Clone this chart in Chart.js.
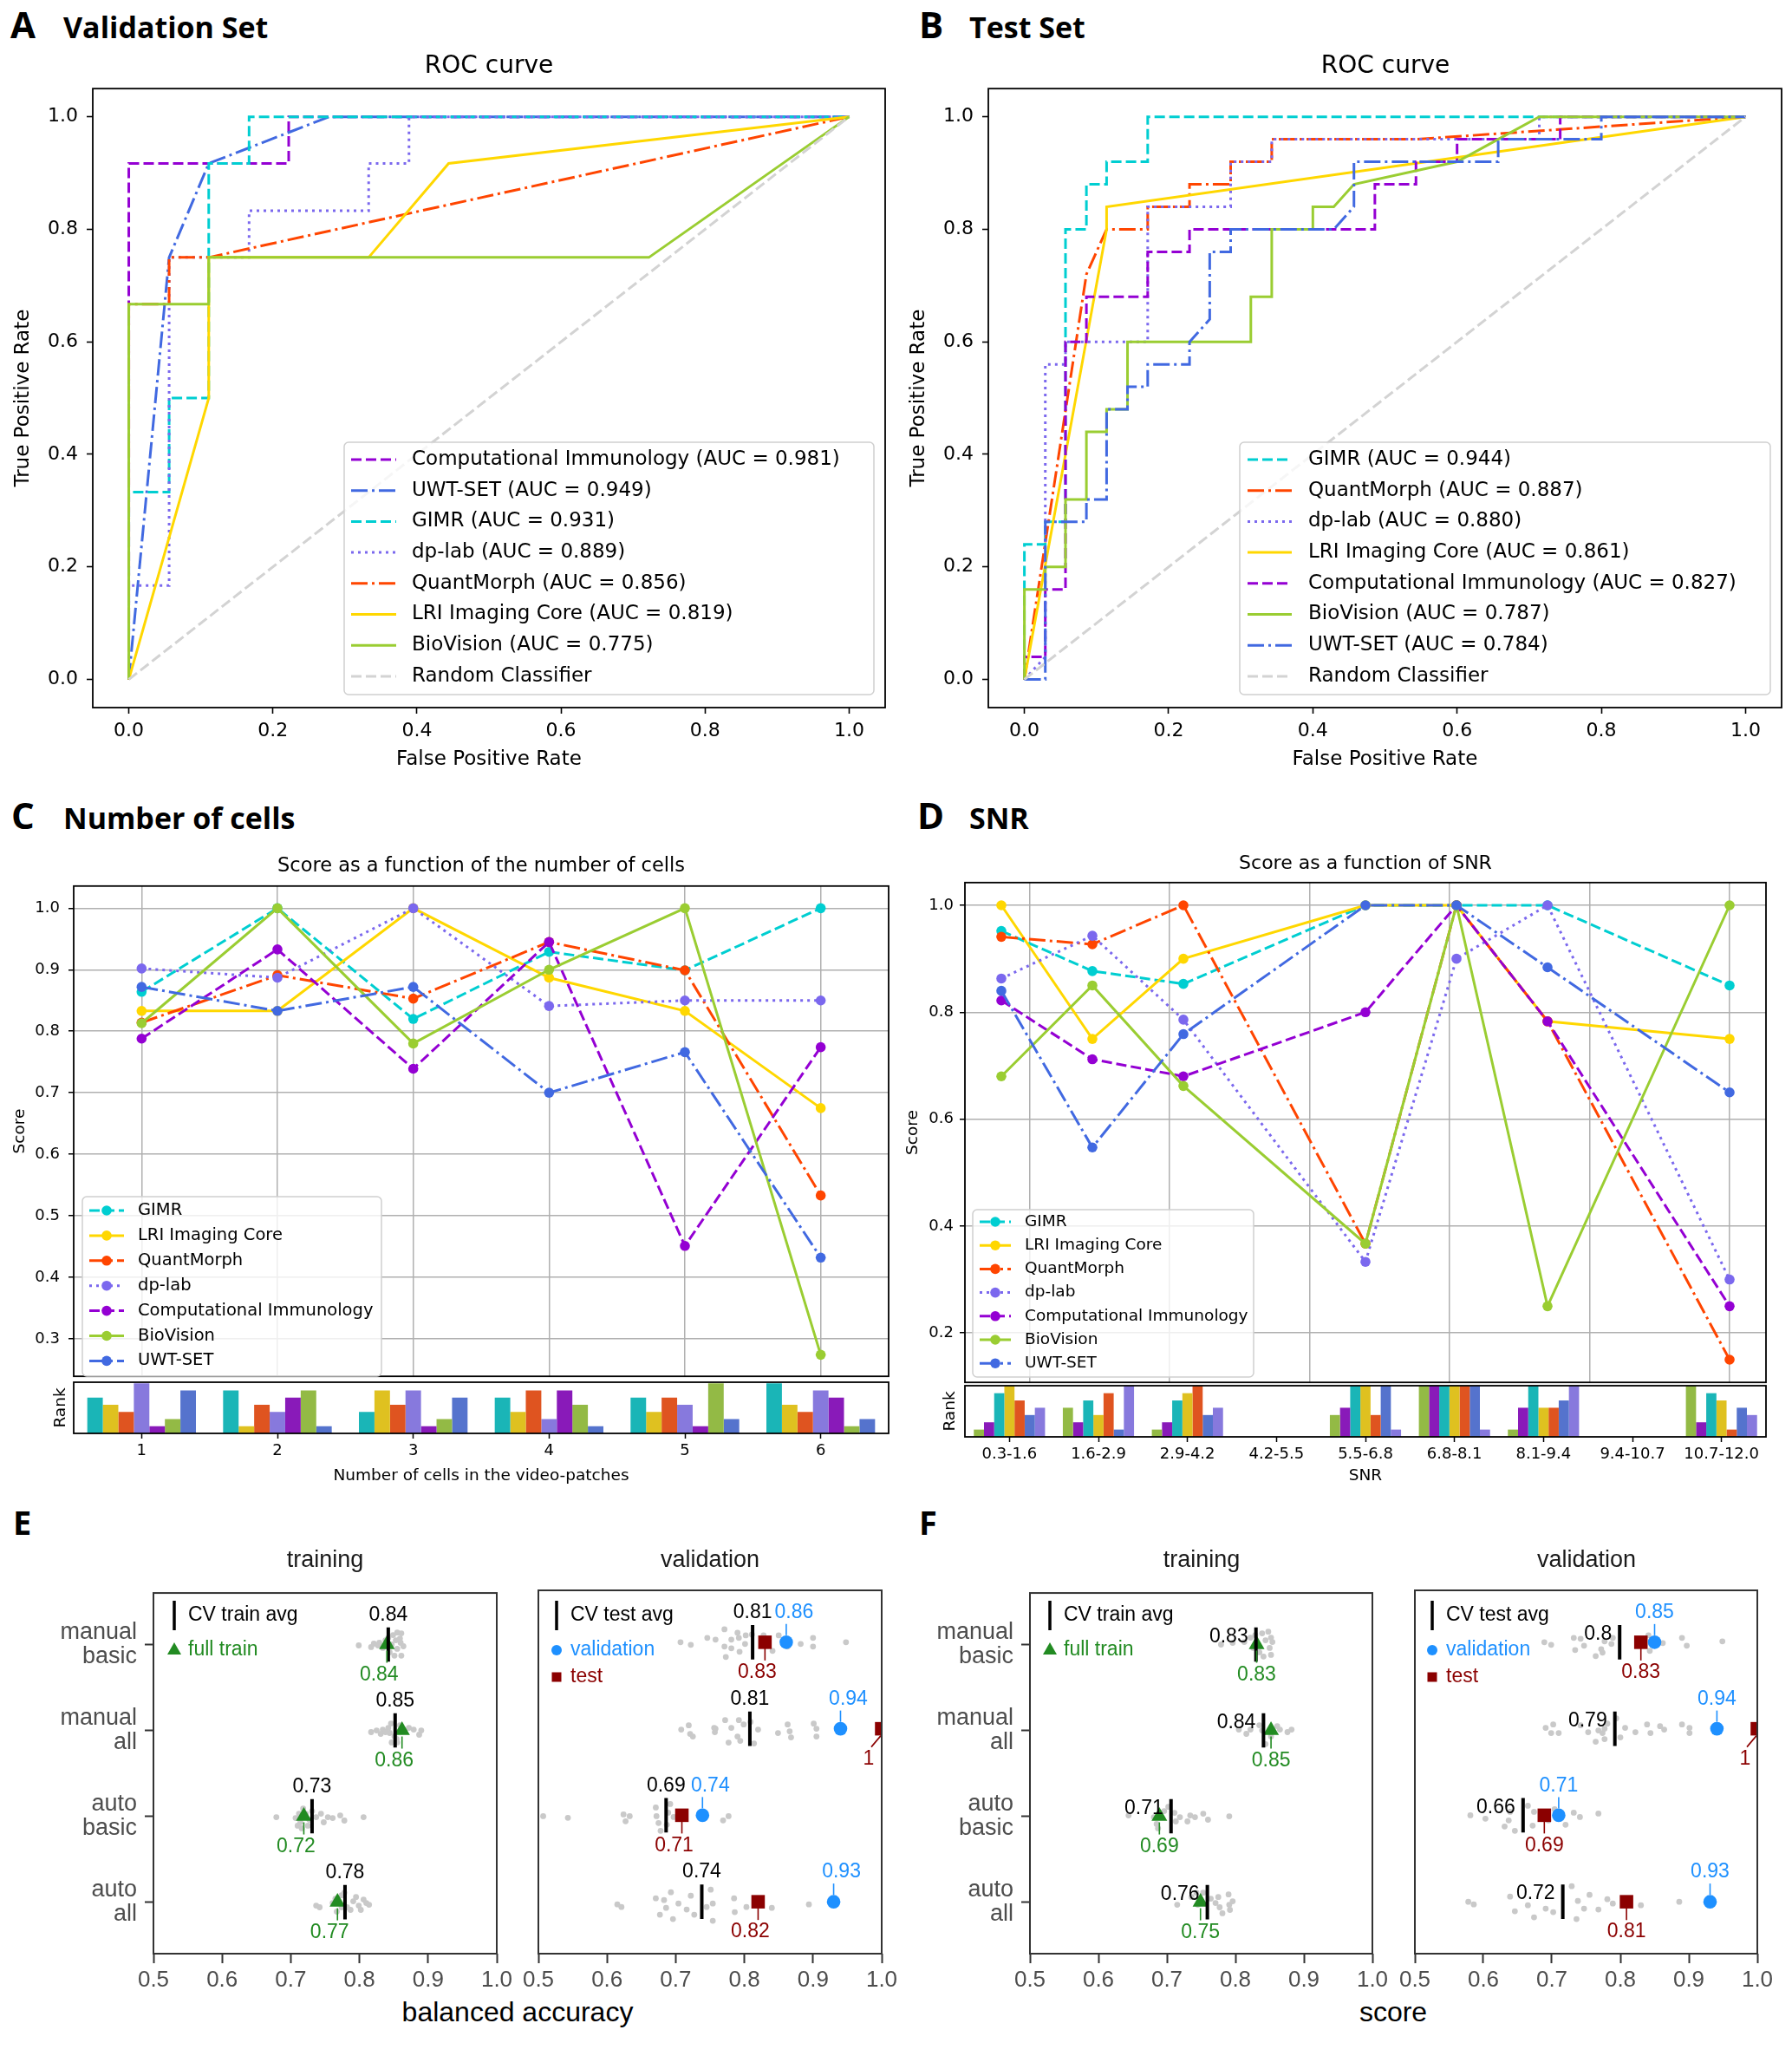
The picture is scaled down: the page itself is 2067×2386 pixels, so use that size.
<!DOCTYPE html>
<html><head><meta charset="utf-8"><title>Figure</title>
<script src="https://cdn.jsdelivr.net/npm/chart.js@4.4.1/dist/chart.umd.min.js"></script>
<style>
html,body{margin:0;padding:0;background:#fff;}
body{position:relative;width:2067px;height:2386px;overflow:hidden;}
canvas{position:absolute;}
.txt{position:absolute;white-space:nowrap;line-height:1;}
</style></head>
<body>
<script>
/* ======================= DATA ======================= */
// Panel A : validation-set ROC curves, points [FPR, TPR]
const valNames = ['Computational Immunology','UWT-SET','GIMR','dp-lab','QuantMorph','LRI Imaging Core','BioVision'];
const valAUC = [0.981,0.949,0.931,0.889,0.856,0.819,0.775];
const valRocCI   = [[0,0],[0,0.917],[0.222,0.917],[0.222,1],[1,1]];
const valRocUWT  = [[0,0],[0.056,0.75],[0.111,0.917],[0.278,1],[1,1]];
const valRocGIMR = [[0,0],[0,0.333],[0.056,0.333],[0.056,0.5],[0.111,0.5],[0.111,0.917],[0.167,0.917],[0.167,1],[1,1]];
const valRocDP   = [[0,0],[0,0.167],[0.056,0.167],[0.056,0.75],[0.167,0.75],[0.167,0.833],[0.333,0.833],[0.333,0.917],[0.389,0.917],[0.389,1],[1,1]];
const valRocQM   = [[0,0],[0,0.667],[0.056,0.667],[0.056,0.75],[0.111,0.75],[1,1]];
const valRocLRI  = [[0,0],[0.111,0.5],[0.111,0.75],[0.333,0.75],[0.444,0.917],[1,1]];
const valRocBV   = [[0,0],[0,0.667],[0.111,0.667],[0.111,0.75],[0.722,0.75],[1,1]];
const randomRoc  = [[0,0],[1,1]];

// Panel B : test-set ROC curves
const testNames = ['GIMR','QuantMorph','dp-lab','LRI Imaging Core','Computational Immunology','BioVision','UWT-SET'];
const testAUC = [0.944,0.887,0.880,0.861,0.827,0.787,0.784];
const testRocGIMR = [[0,0],[0,0.24],[0.029,0.24],[0.029,0.28],[0.057,0.28],[0.057,0.8],[0.086,0.8],[0.086,0.88],[0.114,0.88],[0.114,0.92],[0.171,0.92],[0.171,1],[1,1]];
const testRocQM   = [[0,0],[0.086,0.72],[0.114,0.8],[0.171,0.8],[0.171,0.84],[0.229,0.84],[0.229,0.88],[0.286,0.88],[0.286,0.92],[0.343,0.92],[0.343,0.96],[0.543,0.96],[1,1]];
const testRocDP   = [[0,0],[0.029,0.04],[0.029,0.56],[0.057,0.56],[0.057,0.6],[0.171,0.6],[0.171,0.84],[0.286,0.84],[0.286,0.92],[0.343,0.92],[0.343,0.96],[0.714,0.96],[0.714,1],[1,1]];
const testRocLRI  = [[0,0],[0.114,0.8],[0.114,0.84],[1,1]];
const testRocCI   = [[0,0],[0,0.04],[0.029,0.04],[0.029,0.16],[0.057,0.16],[0.057,0.6],[0.086,0.6],[0.086,0.68],[0.171,0.68],[0.171,0.76],[0.229,0.76],[0.229,0.8],[0.486,0.8],[0.486,0.88],[0.543,0.88],[0.543,0.92],[0.6,0.92],[0.6,0.96],[0.743,0.96],[0.743,1],[1,1]];
const testRocBV   = [[0,0],[0,0.16],[0.029,0.16],[0.029,0.2],[0.057,0.2],[0.057,0.32],[0.086,0.32],[0.086,0.44],[0.114,0.44],[0.114,0.48],[0.143,0.48],[0.143,0.6],[0.314,0.6],[0.314,0.68],[0.343,0.68],[0.343,0.8],[0.4,0.8],[0.4,0.84],[0.429,0.84],[0.457,0.88],[0.6,0.92],[0.657,0.96],[0.714,1],[1,1]];
const testRocUWT  = [[0,0],[0.029,0],[0.029,0.28],[0.086,0.28],[0.086,0.32],[0.114,0.32],[0.114,0.48],[0.143,0.48],[0.143,0.52],[0.171,0.52],[0.171,0.56],[0.229,0.56],[0.229,0.6],[0.257,0.64],[0.257,0.76],[0.286,0.76],[0.286,0.8],[0.429,0.8],[0.457,0.84],[0.457,0.92],[0.657,0.92],[0.657,0.96],[0.8,0.96],[0.8,1],[1,1]];

// Panel C : score vs number of cells
const cellCounts = [1,2,3,4,5,6];
const cellLabels = ['1','2','3','4','5','6'];
const cellGIMR = [0.864,1.0,0.820,0.929,0.899,1.0];
const cellLRI  = [0.833,0.833,1.0,0.887,0.833,0.675];
const cellQM   = [0.814,0.891,0.853,0.945,0.899,0.533];
const cellDP   = [0.902,0.887,1.0,0.841,0.850,0.850];
const cellCI   = [0.788,0.933,0.739,0.945,0.451,0.774];
const cellBV   = [0.813,1.0,0.780,0.900,1.0,0.274];
const cellUWT  = [0.872,0.833,0.872,0.700,0.766,0.432];
const cellRankGIMR = [5,6,3,5,5,7];
const cellRankLRI  = [4,1,6,3,3,4];
const cellRankQM   = [3,4,4,6,5,3];
const cellRankDP   = [7,3,6,2,4,6];
const cellRankCI   = [1,5,1,6,1,5];
const cellRankBV   = [2,6,2,4,7,1];
const cellRankUWT  = [6,1,5,1,2,2];

// Panel D : score vs SNR
const snrPoints = [1.6,2.9,4.2,6.8,8.1,9.4,12.0];
const snrBins = ['0.3-1.6','1.6-2.9','2.9-4.2','4.2-5.5','5.5-6.8','6.8-8.1','8.1-9.4','9.4-10.7','10.7-12.0'];
const snrGIMR = [0.952,0.877,0.853,1.0,1.0,1.0,0.850];
const snrLRI  = [1.0,0.75,0.90,1.0,1.0,0.783,0.75];
const snrQM   = [0.941,0.927,1.0,0.367,1.0,0.783,0.15];
const snrDP   = [0.863,0.943,0.786,0.333,0.90,1.0,0.30];
const snrCI   = [0.822,0.712,0.68,0.80,1.0,0.783,0.25];
const snrBV   = [0.68,0.85,0.662,0.367,1.0,0.25,1.0];
const snrUWT  = [0.84,0.547,0.759,1.0,1.0,0.884,0.65];
const snrRankBV   = [1,4,1,null,3,7,1,null,7];
const snrRankCI   = [2,2,2,null,4,7,4,null,2];
const snrRankGIMR = [6,5,5,null,7,7,7,null,6];
const snrRankLRI  = [7,3,6,null,7,7,4,null,5];
const snrRankQM   = [5,6,7,null,3,7,4,null,1];
const snrRankUWT  = [3,1,3,null,7,7,5,null,4];
const snrRankDP   = [4,7,4,null,1,1,7,null,3];

// Panels E / F : feature sets
const featureSets = [['manual','basic'],['manual','all'],['auto','basic'],['auto','all']];
const axisTicksEF = [0.5,0.6,0.7,0.8,0.9,1.0];
// E (balanced accuracy)
const eTrainAvg  = [0.842,0.852,0.731,0.779];
const eTrainFull = [0.840,0.862,0.719,0.768];
const eValAvg    = [0.812,0.808,0.686,0.738];
const eValVal    = [0.861,0.940,0.739,0.930];
const eValTest   = [0.830,1.0,0.709,0.820];
const eTrainFolds = [
  [0.799,0.817,0.821,0.829,0.838,0.842,0.849,0.855,0.861,0.859,0.860,0.864,0.855,0.861,0.851,0.844,0.834,0.827,0.853,0.847],
  [0.817,0.825,0.831,0.834,0.842,0.844,0.846,0.851,0.847,0.854,0.859,0.866,0.872,0.879,0.887,0.890,0.855,0.838],
  [0.679,0.707,0.712,0.714,0.718,0.716,0.722,0.727,0.731,0.737,0.744,0.748,0.754,0.761,0.772,0.778,0.806,0.725,0.710],
  [0.737,0.742,0.761,0.765,0.774,0.778,0.782,0.787,0.791,0.795,0.799,0.802,0.806,0.810,0.814,0.767,0.774]];
const eTrainJitter = [
  [0.01,0.03,-0.01,-0.02,-0.05,-0.08,-0.11,-0.14,-0.13,-0.07,-0.02,0.02,0.05,0.13,0.13,0.09,0.04,0.01,-0.05,0.00],
  [0.02,0.00,0.04,-0.01,-0.03,0.03,-0.08,0.07,0.14,0.10,-0.06,0.00,-0.03,-0.01,0.05,0.00,0.14,0.02],
  [0.01,0.02,-0.03,0.07,-0.09,0.14,-0.03,0.04,-0.06,0.01,-0.03,0.07,0.01,0.02,-0.01,0.05,0.01,0.11,0.11],
  [0.04,0.06,0.01,-0.04,-0.08,-0.11,0.06,0.09,-0.01,-0.06,0.04,0.09,-0.03,0.01,0.03,0.11,0.06]];
const eValFolds = [
  [0.707,0.722,0.746,0.758,0.771,0.771,0.773,0.781,0.781,0.790,0.792,0.793,0.801,0.802,0.811,0.828,0.841,0.850,0.863,0.882,0.900,0.900,0.948],
  [0.708,0.719,0.721,0.725,0.756,0.757,0.772,0.781,0.790,0.792,0.794,0.799,0.809,0.814,0.820,0.849,0.863,0.866,0.868,0.901,0.905,0.905,0.777,0.758],
  [0.507,0.543,0.624,0.627,0.633,0.671,0.672,0.675,0.678,0.687,0.692,0.689,0.697,0.769,0.777],
  [0.615,0.621,0.671,0.677,0.683,0.686,0.693,0.696,0.704,0.716,0.722,0.727,0.745,0.751,0.754,0.754,0.785,0.786,0.803,0.840,0.894]];
const eValJitter = [
  [0.00,0.03,-0.05,-0.03,-0.15,0.05,0.17,-0.03,0.07,-0.11,-0.05,0.11,0.02,-0.08,-0.09,-0.08,0.10,-0.08,0.05,0.02,-0.05,0.05,0.00],
  [0.01,-0.04,0.06,0.09,-0.01,0.04,-0.10,-0.01,0.09,-0.10,0.14,-0.05,-0.08,0.17,0.01,0.05,-0.05,0.03,0.10,-0.06,0.00,0.09,0.16,0.00],
  [0.01,0.03,-0.01,0.07,0.01,-0.09,0.01,0.09,0.18,0.11,-0.13,-0.03,0.02,0.06,0.01],
  [0.03,0.06,-0.04,0.15,-0.02,0.07,-0.11,0.20,0.02,0.09,-0.07,0.15,0.06,-0.14,0.02,0.22,-0.04,0.12,0.06,0.07,0.03]];
// F (score)
const fTrainAvg  = [0.830,0.841,0.706,0.759];
const fTrainFull = [0.831,0.852,0.689,0.749];
const fValAvg    = [0.799,0.792,0.658,0.716];
const fValVal    = [0.850,0.941,0.710,0.931];
const fValTest   = [0.830,1.0,0.689,0.809];
const fTrainFolds = [
  [0.779,0.796,0.813,0.822,0.829,0.839,0.848,0.852,0.854,0.850,0.852,0.841,0.835,0.826,0.844],
  [0.805,0.816,0.822,0.835,0.839,0.844,0.861,0.865,0.876,0.882,0.852],
  [0.644,0.681,0.687,0.696,0.702,0.711,0.713,0.719,0.730,0.734,0.741,0.753,0.760,0.791,0.685],
  [0.715,0.736,0.745,0.753,0.764,0.771,0.775,0.777,0.781,0.790,0.791,0.796,0.792,0.743]];
const fTrainJitter = [
  [0.00,-0.02,-0.03,-0.08,-0.11,-0.13,-0.15,-0.08,-0.03,0.04,0.12,0.14,0.09,0.04,-0.05],
  [-0.01,0.04,-0.01,-0.06,0.00,0.16,-0.05,-0.01,0.02,-0.01,0.07],
  [-0.01,0.01,0.14,-0.06,-0.11,-0.04,0.06,0.01,0.06,-0.01,0.01,-0.03,0.04,0.00,0.09],
  [0.03,-0.06,0.03,-0.11,-0.04,0.01,-0.06,0.06,0.13,-0.09,0.03,-0.01,0.09,-0.11]];
const fValFolds = [
  [0.689,0.699,0.732,0.734,0.742,0.747,0.764,0.772,0.774,0.777,0.787,0.789,0.841,0.843,0.862,0.890,0.897,0.949],
  [0.691,0.702,0.699,0.710,0.742,0.753,0.764,0.774,0.777,0.777,0.781,0.794,0.800,0.807,0.822,0.839,0.844,0.858,0.864,0.890,0.901,0.901,0.768],
  [0.581,0.603,0.631,0.637,0.646,0.639,0.665,0.672,0.674,0.695,0.704,0.720,0.732,0.741,0.768],
  [0.578,0.586,0.639,0.646,0.665,0.674,0.691,0.702,0.729,0.738,0.747,0.755,0.768,0.781,0.789,0.830,0.886,0.736]];
const fValJitter = [
  [0.00,0.03,-0.05,0.09,-0.04,0.04,0.16,0.08,0.12,-0.01,0.02,-0.05,-0.08,0.10,0.01,-0.05,0.04,-0.01],
  [-0.01,-0.05,0.05,0.05,-0.04,0.04,0.15,0.05,0.12,0.00,-0.06,-0.12,0.10,-0.01,0.04,-0.05,0.05,-0.03,0.01,-0.05,-0.01,0.05,0.02],
  [0.00,0.04,0.13,0.06,0.18,-0.04,-0.11,0.12,-0.04,0.06,-0.07,0.11,-0.03,0.02,-0.02],
  [0.00,0.03,-0.06,0.11,0.04,0.18,0.08,0.12,-0.18,-0.01,0.08,-0.08,0.09,-0.03,0.02,0.04,0.00,0.20]];

/* ======================= STYLES ======================= */
const teamName  = {GIMR:'GIMR', LRI:'LRI Imaging Core', QM:'QuantMorph', DP:'dp-lab', CI:'Computational Immunology', BV:'BioVision', UWT:'UWT-SET'};
const nameKey = {}; Object.keys(teamName).forEach(k => nameKey[teamName[k]] = k);
const teamColor = {GIMR:'#00CED1', LRI:'#FFD700', QM:'#FF4500', DP:'#7B68EE', CI:'#9400D3', BV:'#9ACD32', UWT:'#4169E1'};
const teamBar   = {GIMR:'#1AB5B7', LRI:'#DFC120', QM:'#DF5420', DP:'#8779DD', CI:'#891AB9', BV:'#93BA45', UWT:'#5573CD'};
const teamDash  = {GIMR:[12,5], LRI:[], QM:[19,5,3,5], DP:[3,5], CI:[12,5], BV:[], UWT:[19,5,3,5]};
const MPL = 'DejaVu Sans', GG = 'Liberation Sans', HEAD = 'Open Sans';
const GREEN = '#228B22', BLUE = '#1E90FF', DRED = '#8B0000';

Chart.defaults.font.family = MPL;
Chart.defaults.color = '#000';

/* ======================= PLUGINS ======================= */
function rrect(ctx, x, y, w, h, r) {
  ctx.beginPath(); ctx.moveTo(x + r, y); ctx.lineTo(x + w - r, y); ctx.arcTo(x + w, y, x + w, y + r, r);
  ctx.lineTo(x + w, y + h - r); ctx.arcTo(x + w, y + h, x + w - r, y + h, r);
  ctx.lineTo(x + r, y + h); ctx.arcTo(x, y + h, x, y + h - r, r);
  ctx.lineTo(x, y + r); ctx.arcTo(x, y, x + r, y, r); ctx.closePath();
}
const framePlugin = {
  id: 'frame',
  afterDraw(chart, args, o) {
    if (!o || !o.color) return;
    const {ctx, chartArea: a} = chart;
    ctx.save(); ctx.strokeStyle = o.color; ctx.lineWidth = o.width; ctx.setLineDash([]);
    ctx.strokeRect(a.left, a.top, a.right - a.left, a.bottom - a.top);
    ctx.restore();
  }
};
const mplLegend = {
  id: 'mplLegend',
  afterDraw(chart, args, o) {
    if (!o || !o.box) return;
    const ctx = chart.ctx, ox = o.ox, oy = o.oy;
    ctx.save();
    rrect(ctx, o.box[0] - ox, o.box[1] - oy, o.box[2], o.box[3], 5);
    ctx.fillStyle = 'rgba(255,255,255,0.8)'; ctx.fill();
    ctx.strokeStyle = '#cfcfcf'; ctx.lineWidth = 1.5; ctx.stroke();
    chart.data.datasets.forEach((ds, i) => {
      const y = o.firstY + i * o.step - oy;
      ctx.setLineDash(ds.borderDash || []);
      ctx.strokeStyle = ds.borderColor; ctx.lineWidth = ds.borderWidth;
      ctx.beginPath(); ctx.moveTo(o.x0 - ox, y); ctx.lineTo(o.x1 - ox, y); ctx.stroke();
      ctx.setLineDash([]);
      if (o.markerX) {
        ctx.beginPath(); ctx.arc(o.markerX - ox, y, ds.pointRadius, 0, Math.PI * 2);
        ctx.fillStyle = ds.pointBackgroundColor; ctx.fill();
      }
      ctx.fillStyle = '#000'; ctx.font = o.font; ctx.textBaseline = 'middle'; ctx.textAlign = 'left';
      ctx.fillText(ds.label, o.textX - ox, y);
    });
    ctx.restore();
  }
};
const ggAnnot = {
  id: 'ggAnnot',
  afterDatasetsDraw(chart, args, o) {
    if (!o || !o.labels) return;
    const ctx = chart.ctx, xs = chart.scales.x, ys = chart.scales.y;
    ctx.save();
    ctx.font = o.font; ctx.textBaseline = 'middle';
    o.labels.forEach(L => {
      const px = xs.getPixelForValue(L.x), py = ys.getPixelForValue(L.row);
      if (L.seg) {
        ctx.strokeStyle = L.color; ctx.lineWidth = 1.6; ctx.beginPath();
        ctx.moveTo(px + L.seg[0], py + L.seg[1]); ctx.lineTo(px + L.seg[2], py + L.seg[3]); ctx.stroke();
      }
      ctx.fillStyle = L.color; ctx.textAlign = L.align || 'center';
      ctx.fillText(L.text, px + L.dx, py + L.dy);
    });
    const ox = o.ox, oy = o.oy;
    (o.legend || []).forEach(it => {
      const x = it.x - ox, y = it.y - oy;
      ctx.fillStyle = it.color; ctx.strokeStyle = it.color;
      if (it.kind === 'bar') { ctx.lineWidth = 3.5; ctx.beginPath(); ctx.moveTo(x, y - 17); ctx.lineTo(x, y + 17); ctx.stroke(); }
      if (it.kind === 'tri') { ctx.beginPath(); ctx.moveTo(x, y - 9); ctx.lineTo(x + 8, y + 5); ctx.lineTo(x - 8, y + 5); ctx.closePath(); ctx.fill(); }
      if (it.kind === 'dot') { ctx.beginPath(); ctx.arc(x, y, 6, 0, Math.PI * 2); ctx.fill(); }
      if (it.kind === 'sq') { ctx.fillRect(x - 5.5, y - 5.5, 11, 11); }
      ctx.textAlign = 'left'; ctx.fillText(it.text, it.tx - ox, y);
    });
    ctx.restore();
  }
};
Chart.register(framePlugin, mplLegend, ggAnnot);

/* ======================= HELPERS ======================= */
function mkCanvas(rect, m) {
  const x = rect[0] - m[0], y = rect[1] - m[1];
  const w = m[0] + (rect[2] - rect[0]) + m[2], h = m[1] + (rect[3] - rect[1]) + m[3];
  const c = document.createElement('canvas');
  c.width = w; c.height = h;
  c.style.left = x + 'px'; c.style.top = y + 'px'; c.style.width = w + 'px'; c.style.height = h + 'px';
  document.body.appendChild(c);
  return {c, ox: x, oy: y};
}
function baseOptions(m, plugins, padBottom) {
  return {
    responsive: false, animation: false, events: [],
    layout: {autoPadding: false, padding: {left: 0, top: m[1], right: m[2], bottom: padBottom || 0}},
    plugins: Object.assign({legend: {display: false}, tooltip: {enabled: false}}, plugins)
  };
}
function text(str, x, baseline, size, opt) {
  opt = opt || {};
  const d = document.createElement('div');
  d.className = 'txt'; d.textContent = str;
  const fam = opt.family || MPL;
  const k = fam === HEAD ? 0.888 : 0.846;
  d.style.fontFamily = '"' + fam + '"'; d.style.fontSize = size + 'px';
  d.style.fontWeight = opt.bold ? '700' : '400';
  d.style.color = opt.color || '#000';
  d.style.top = (baseline - k * size) + 'px';
  d.style.left = x + 'px';
  if (opt.center) d.style.transform = 'translateX(-50%)';
  document.body.appendChild(d);
}
const pts = arr => arr.map(p => ({x: p[0], y: p[1]}));
const zipXY = (xs, ys) => xs.map((x, i) => ({x, y: ys[i]}));
const fixedTicks = vals => (s => { s.ticks = vals.map(v => ({value: v})); });

/* ======================= PANELS A / B : ROC ======================= */
function rocChart(rect, m, names, aucs, curves, leg) {
  const {c, ox, oy} = mkCanvas(rect, m);
  const ds = names.map((n, i) => {
    const k = nameKey[n];
    return {label: n + ' (AUC = ' + aucs[i].toFixed(3) + ')', data: pts(curves[i]), showLine: true,
      borderColor: teamColor[k], backgroundColor: teamColor[k], borderDash: teamDash[k], borderWidth: 3,
      pointRadius: 0, order: -i};
  });
  ds.push({label: 'Random Classifier', data: pts(randomRoc), showLine: true, borderColor: '#d3d3d3',
    backgroundColor: '#d3d3d3', borderDash: [12,5], borderWidth: 3, pointRadius: 0, order: -20});
  const tick01 = [0,0.2,0.4,0.6,0.8,1.0];
  const opts = baseOptions(m, {
    frame: {color: '#000', width: 1.8},
    mplLegend: Object.assign({ox, oy, font: '23px "DejaVu Sans"'}, leg)
  });
  opts.scales = {
    x: {type: 'linear', min: -0.05, max: 1.05, afterBuildTicks: fixedTicks(tick01), afterFit: s => { s.height = m[3]; },
      ticks: {callback: v => v.toFixed(1), font: {size: 22}, color: '#000', padding: 7, maxRotation: 0, autoSkip: false},
      grid: {drawOnChartArea: false, drawTicks: true, tickLength: 7, tickColor: '#000', tickWidth: 1.6},
      border: {display: false},
      title: {display: true, text: 'False Positive Rate', font: {size: 23}, color: '#000', padding: 0}},
    y: {type: 'linear', min: -0.05, max: 1.05, afterBuildTicks: fixedTicks(tick01), afterFit: s => { s.width = m[0]; },
      ticks: {callback: v => v.toFixed(1), font: {size: 22}, color: '#000', padding: 10, autoSkip: false},
      grid: {drawOnChartArea: false, drawTicks: true, tickLength: 7, tickColor: '#000', tickWidth: 1.6},
      border: {display: false},
      title: {display: true, text: 'True Positive Rate', font: {size: 23}, color: '#000', padding: 0}}
  };
  new Chart(c, {type: 'scatter', data: {datasets: ds}, options: opts});
}
rocChart([107,99,1021,816], [94,20,19,74], valNames, valAUC,
  [valRocCI, valRocUWT, valRocGIMR, valRocDP, valRocQM, valRocLRI, valRocBV],
  {box: [397,510,611,291], firstY: 530, step: 35.7, x0: 405, x1: 457, textX: 475});
rocChart([1140,99,2055,816], [94,20,12,74], testNames, testAUC,
  [testRocGIMR, testRocQM, testRocDP, testRocLRI, testRocCI, testRocBV, testRocUWT],
  {box: [1430,510,612,291], firstY: 530, step: 35.7, x0: 1439, x1: 1490, textX: 1509});

/* ======================= PANELS C / D : score curves + rank bars ======================= */
const legendOrder = ['GIMR','LRI','QM','DP','CI','BV','UWT'];
function scoreChart(rect, m, xs, series, xCfg, yCfg, leg) {
  const {c, ox, oy} = mkCanvas(rect, m);
  const ds = legendOrder.map((k, i) => ({label: teamName[k], data: zipXY(xs, series[k]), showLine: true,
    borderColor: teamColor[k], backgroundColor: teamColor[k], pointBackgroundColor: teamColor[k],
    borderDash: teamDash[k], borderWidth: 3, pointRadius: 5.8, pointBorderWidth: 0, order: -i}));
  const opts = baseOptions(m, {frame: {color: '#000', width: 1.8},
    mplLegend: Object.assign({ox, oy}, leg)}, m[3]);
  opts.scales = {
    x: {type: 'linear', min: xCfg.min, max: xCfg.max, afterBuildTicks: fixedTicks(xCfg.grid), afterFit: s => { s.height = 0; },
      ticks: {display: false}, grid: {color: '#b0b0b0', lineWidth: 1.5, drawTicks: false}, border: {display: false}},
    y: {type: 'linear', min: yCfg.min, max: yCfg.max, afterBuildTicks: fixedTicks(yCfg.ticks), afterFit: s => { s.width = m[0]; },
      ticks: {callback: v => v.toFixed(1), font: {size: 18}, color: '#000', padding: yCfg.pad, autoSkip: false},
      grid: {color: '#b0b0b0', lineWidth: 1.5, drawTicks: true, tickLength: 6, tickColor: '#000', tickWidth: 1.5},
      border: {display: false},
      title: {display: true, text: 'Score', font: {size: 18.5}, color: '#000', padding: 0}}
  };
  new Chart(c, {type: 'scatter', data: {datasets: ds}, options: opts});
}
function rankChart(rect, m, titleShift, labels, order, ranks, ymax, xTitle) {
  const {c} = mkCanvas(rect, m);
  const ds = order.map(k => ({label: teamName[k], data: ranks[k], backgroundColor: teamBar[k],
    borderWidth: 0, categoryPercentage: 0.8, barPercentage: 1.0}));
  const opts = baseOptions(m, {frame: {color: '#000', width: 1.8}});
  opts.scales = {
    x: {type: 'category', afterFit: s => { s.height = m[3]; },
      ticks: {font: {size: 18}, color: '#000', padding: 4, maxRotation: 0, autoSkip: false},
      grid: {offset: false, drawOnChartArea: false, drawTicks: true, tickLength: 6, tickColor: '#000', tickWidth: 1.5},
      border: {display: false},
      title: {display: true, text: xTitle, font: {size: 18.5}, color: '#000', padding: 0}},
    y: {type: 'linear', min: 0, max: ymax, afterFit: s => { s.width = m[0]; },
      ticks: {display: false}, grid: {display: false}, border: {display: false},
      title: {display: true, text: 'Rank', font: {size: 18.5}, color: '#000', padding: {top: titleShift, bottom: 0}}}
  };
  new Chart(c, {type: 'bar', data: {labels, datasets: ds}, options: opts});
}
scoreChart([85,1013,1025,1594], [73,12,10,14], cellCounts,
  {GIMR: cellGIMR, LRI: cellLRI, QM: cellQM, DP: cellDP, CI: cellCI, BV: cellBV, UWT: cellUWT},
  {min: 0.5, max: 6.5, grid: [1,2,3,4,5,6]},
  {min: 0.239, max: 1.036, ticks: [0.3,0.4,0.5,0.6,0.7,0.8,0.9,1.0], pad: 10},
  {box: [95,1380,345,207], firstY: 1396, step: 28.9, x0: 103, x1: 143, markerX: 123, textX: 159, font: '19.5px "DejaVu Sans"'});
rankChart([85,1594,1025,1653], [40,2,10,60], 14, cellLabels, legendOrder,
  {GIMR: cellRankGIMR, LRI: cellRankLRI, QM: cellRankQM, DP: cellRankDP, CI: cellRankCI, BV: cellRankBV, UWT: cellRankUWT},
  7.15, 'Number of cells in the video-patches');

scoreChart([1113,1012,2037,1598], [71,12,10,14], snrPoints,
  {GIMR: snrGIMR, LRI: snrLRI, QM: snrQM, DP: snrDP, CI: snrCI, BV: snrBV, UWT: snrUWT},
  {min: 1.08, max: 12.52, grid: [2,4,6,8,10,12]},
  {min: 0.1075, max: 1.0425, ticks: [0.2,0.4,0.6,0.8,1.0], pad: 7},
  {box: [1122,1395,324,193], firstY: 1409, step: 27.2, x0: 1130, x1: 1166, markerX: 1148, textX: 1182, font: '18.5px "DejaVu Sans"'});
rankChart([1113,1598,2037,1657], [40,2,10,56], 12, snrBins, ['BV','CI','GIMR','LRI','QM','UWT','DP'],
  {GIMR: snrRankGIMR, LRI: snrRankLRI, QM: snrRankQM, DP: snrRankDP, CI: snrRankCI, BV: snrRankBV, UWT: snrRankUWT},
  7.03, 'SNR');

/* ======================= PANELS E / F ======================= */
const fmt = v => String(Number(v.toFixed(2)));
function ggChart(rect, m, isTrain, folds, jitter, avg, marks, nudge, legendItems) {
  const {c, ox, oy} = mkCanvas(rect, m);
  const dots = [];
  folds.forEach((row, r) => row.forEach((v, j) => dots.push({x: v, y: r + jitter[r][j]})));
  const avgSeg = [];
  avg.forEach((v, r) => { avgSeg.push({x: v, y: r - 0.2}, {x: v, y: r + 0.2}, {x: NaN, y: NaN}); });
  const ds = [
    {label: 'folds', data: dots, pointRadius: 3.4, pointBackgroundColor: '#c9c9c9', backgroundColor: '#c9c9c9', pointBorderWidth: 0, order: 10},
    {label: 'avg', data: avgSeg, showLine: true, spanGaps: false, borderColor: '#000', borderWidth: 4, pointRadius: 0, order: 1}
  ];
  const labels = [];
  avg.forEach((v, r) => labels.push({x: v, row: r, text: fmt(v), color: '#000', dx: nudge.avg[0], dy: nudge.avg[1], align: nudge.avg[2]}));
  marks.forEach(mk => {
    ds.push({label: mk.kind, data: mk.vals.map((v, r) => ({x: v, y: r})), pointStyle: mk.style, pointRadius: mk.radius,
      pointBackgroundColor: mk.color, backgroundColor: mk.color, pointBorderWidth: 0, order: mk.order});
    mk.vals.forEach((v, r) => {
      const n = nudge[mk.kind];
      const L = {x: v, row: r, text: fmt(v), color: mk.color, dx: n[0], dy: n[1]};
      if (n[1] > 0) L.seg = [0, 7, 0, 21]; else L.seg = [0, -21, 0, -8];
      if (v >= 0.995) { L.dx = nudge.edge[0]; L.dy = nudge.edge[1]; L.seg = [-1, 8, -12, 21]; }
      labels.push(L);
    });
  });
  const opts = baseOptions(m, {frame: {color: '#333', width: 2},
    ggAnnot: {labels, ox, oy, font: '23px "Liberation Sans"', legend: legendItems}});
  opts.scales = {
    x: {type: 'linear', min: 0.5, max: 1.0, afterBuildTicks: fixedTicks(axisTicksEF), afterFit: s => { s.height = m[3]; },
      ticks: {callback: v => v.toFixed(1), font: {family: GG, size: 26}, color: '#4d4d4d', padding: 4, maxRotation: 0, autoSkip: false},
      grid: {drawOnChartArea: false, drawTicks: true, tickLength: 11, tickColor: '#333', tickWidth: 2},
      border: {display: false}},
    y: {type: 'linear', min: -0.6, max: 3.6, reverse: true, afterBuildTicks: fixedTicks([0,1,2,3]), afterFit: s => { s.width = m[0]; },
      ticks: {display: isTrain, callback: v => featureSets[v], font: {family: GG, size: 27, lineHeight: 1.04}, color: '#4d4d4d', padding: 9, autoSkip: false},
      grid: {display: isTrain, drawOnChartArea: false, drawTicks: true, tickLength: 10, tickColor: '#333', tickWidth: 2},
      border: {display: false}}
  };
  new Chart(c, {type: 'scatter', data: {datasets: ds}, options: opts});
}
const triMark = (vals) => ({kind: 'full', vals, style: 'triangle', radius: 10.5, color: GREEN, order: 2});
const dotMark = (vals) => ({kind: 'val', vals, style: 'circle', radius: 7.8, color: BLUE, order: 0});
const sqMark  = (vals) => ({kind: 'test', vals, style: 'rect', radius: 11, color: DRED, order: 0.5});
const nudgeE = {avg: [0,-34,'center'], full: [-9,35], val: [9,-34], test: [-9,35], edge: [-15,35]};
const nudgeF = {avg: [-9,-9,'right'], full: [0,35], val: [0,-34], test: [0,35], edge: [-14,35]};
function trainLegend(x) { return [
  {kind: 'bar', x: x, y: 1863, color: '#000', text: 'CV train avg', tx: x + 16},
  {kind: 'tri', x: x, y: 1903, color: GREEN, text: 'full train', tx: x + 16}]; }
function valLegend(x) { return [
  {kind: 'bar', x: x, y: 1863, color: '#000', text: 'CV test avg', tx: x + 16},
  {kind: 'dot', x: x, y: 1903, color: BLUE, text: 'validation', tx: x + 16},
  {kind: 'sq', x: x, y: 1934, color: DRED, text: 'test', tx: x + 16}]; }

ggChart([177,1834,573,2253], [117,34,25,47], true, eTrainFolds, eTrainJitter, eTrainAvg, [triMark(eTrainFull)], nudgeE, trainLegend(201));
ggChart([621,1834,1017,2253], [25,34,25,47], false, eValFolds, eValJitter, eValAvg, [sqMark(eValTest), dotMark(eValVal)], nudgeE, valLegend(642));
ggChart([1188,1834,1583,2253], [117,34,25,47], true, fTrainFolds, fTrainJitter, fTrainAvg, [triMark(fTrainFull)], nudgeF, trainLegend(1211));
ggChart([1632,1834,2027,2253], [25,34,25,47], false, fValFolds, fValJitter, fValAvg, [sqMark(fValTest), dotMark(fValVal)], nudgeF, valLegend(1652));

/* ======================= TEXT ======================= */
text('A', 12, 44, 42, {family: HEAD, bold: true});
text('Validation Set', 73, 44, 34, {family: HEAD, bold: true});
text('B', 1060, 44, 42, {family: HEAD, bold: true});
text('Test Set', 1118, 44, 34, {family: HEAD, bold: true});
text('C', 13, 956, 42, {family: HEAD, bold: true});
text('Number of cells', 73, 956, 34, {family: HEAD, bold: true});
text('D', 1058, 956, 42, {family: HEAD, bold: true});
text('SNR', 1118, 956, 34, {family: HEAD, bold: true});
text('E', 15, 1770, 38, {family: HEAD, bold: true});
text('F', 1060, 1770, 38, {family: HEAD, bold: true});

text('ROC curve', 564, 85, 28, {center: true});
text('ROC curve', 1598, 85, 28, {center: true});
text('Score as a function of the number of cells', 555, 1005, 22.5, {center: true});
text('Score as a function of SNR', 1575, 1003, 22, {center: true});

text('training', 375, 1808, 27, {family: GG, center: true, color: '#1a1a1a'});
text('validation', 819, 1808, 27, {family: GG, center: true, color: '#1a1a1a'});
text('training', 1386, 1808, 27, {family: GG, center: true, color: '#1a1a1a'});
text('validation', 1830, 1808, 27, {family: GG, center: true, color: '#1a1a1a'});
text('balanced accuracy', 597, 2331, 32, {family: GG, center: true});
text('score', 1607, 2331, 32, {family: GG, center: true});
</script>
</body></html>
